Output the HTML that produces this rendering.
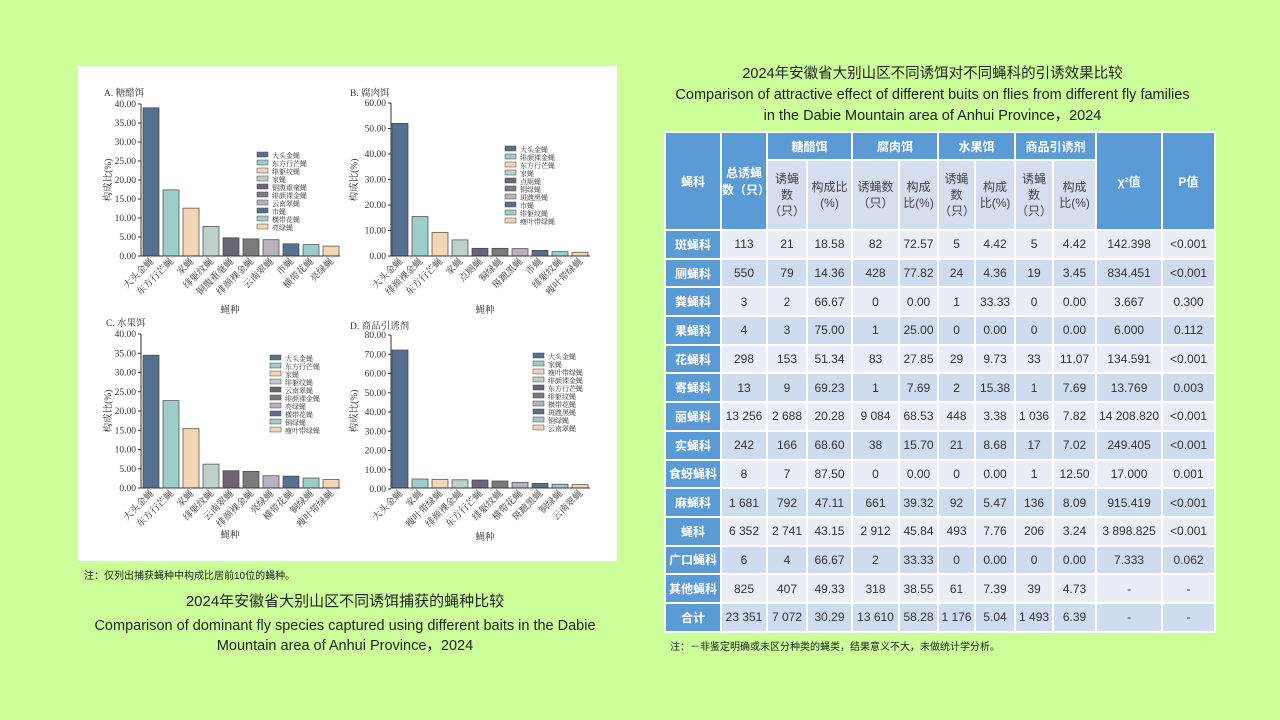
<!DOCTYPE html>
<html><head><meta charset="utf-8">
<style>
body{margin:0;width:1280px;height:720px;background:#ccff99;position:relative;overflow:hidden;font-family:"Liberation Sans","Noto Sans CJK SC",sans-serif;color:#222}
.ab{position:absolute}
.panel{left:78px;top:66px;width:539px;height:495px;background:#fff}
svg text{font-family:"Liberation Serif","Noto Serif CJK SC",serif;fill:#333}
.tk{font-size:9.5px;text-anchor:end}
.lb{font-size:9.5px;text-anchor:end}
.lg{font-size:7px}
.ti{font-size:9.5px}
table{border-collapse:collapse;table-layout:fixed;font-size:12px}
td{border:2px solid #fff;text-align:center;padding:0;color:#333;font-family:"Liberation Sans","Noto Sans CJK SC",sans-serif}
td.h{background:#5b9bd5;color:#fff;font-weight:bold;font-size:12px}
td.s{background:#d4deef;color:#444;font-size:12px;line-height:16px}
td.f{background:#5b9bd5;color:#fff;font-weight:bold;font-size:12px}
tr.l td:not(.f){background:#e9edf5}
tr.d td:not(.f){background:#cfdbee}
tr.r{height:28.7px}
</style></head><body>
<div class="ab panel"></div>
<svg class="ab" style="left:0;top:0" width="1280" height="720" viewBox="0 0 1280 720">
<g stroke="#444" stroke-width="0.7">
<rect x="143" y="107.8" width="16" height="148.2" fill="#56718f"/>
<rect x="163" y="189.9" width="16" height="66.1" fill="#9dcdc8"/>
<rect x="183" y="208.1" width="16" height="47.9" fill="#f2d5b2"/>
<rect x="203" y="226.4" width="16" height="29.6" fill="#bdd0c9"/>
<rect x="223" y="237.8" width="16" height="18.2" fill="#6b6573"/>
<rect x="243" y="238.9" width="16" height="17.1" fill="#7b7b7d"/>
<rect x="263" y="239.7" width="16" height="16.3" fill="#b9b1bd"/>
<rect x="283" y="243.8" width="16" height="12.2" fill="#56718f"/>
<rect x="303" y="244.6" width="16" height="11.4" fill="#9dcdc8"/>
<rect x="323" y="246.1" width="16" height="9.9" fill="#f2d5b2"/>
<rect x="392" y="123.4" width="16" height="132.6" fill="#56718f"/>
<rect x="412" y="216.5" width="16" height="39.5" fill="#9dcdc8"/>
<rect x="432" y="232.3" width="16" height="23.7" fill="#f2d5b2"/>
<rect x="452" y="239.9" width="16" height="16.1" fill="#bdd0c9"/>
<rect x="472" y="248.3" width="16" height="7.7" fill="#6b6573"/>
<rect x="492" y="248.3" width="16" height="7.7" fill="#7b7b7d"/>
<rect x="512" y="248.6" width="16" height="7.4" fill="#b9b1bd"/>
<rect x="532" y="250.4" width="16" height="5.6" fill="#56718f"/>
<rect x="552" y="251.7" width="16" height="4.3" fill="#9dcdc8"/>
<rect x="572" y="252.2" width="16" height="3.8" fill="#f2d5b2"/>
<rect x="143" y="355.2" width="16" height="132.8" fill="#56718f"/>
<rect x="163" y="400.6" width="16" height="87.4" fill="#9dcdc8"/>
<rect x="183" y="428.7" width="16" height="59.3" fill="#f2d5b2"/>
<rect x="203" y="464.1" width="16" height="23.9" fill="#bdd0c9"/>
<rect x="223" y="470.7" width="16" height="17.3" fill="#6b6573"/>
<rect x="243" y="471.4" width="16" height="16.6" fill="#7b7b7d"/>
<rect x="263" y="475.7" width="16" height="12.3" fill="#b9b1bd"/>
<rect x="283" y="476.1" width="16" height="11.9" fill="#56718f"/>
<rect x="303" y="478" width="16" height="10" fill="#9dcdc8"/>
<rect x="323" y="479.5" width="16" height="8.5" fill="#f2d5b2"/>
<rect x="392" y="350" width="16" height="138" fill="#56718f"/>
<rect x="412" y="479" width="16" height="9" fill="#9dcdc8"/>
<rect x="432" y="479.3" width="16" height="8.7" fill="#f2d5b2"/>
<rect x="452" y="479.8" width="16" height="8.2" fill="#bdd0c9"/>
<rect x="472" y="480" width="16" height="8" fill="#6b6573"/>
<rect x="492" y="481" width="16" height="7" fill="#7b7b7d"/>
<rect x="512" y="482.3" width="16" height="5.7" fill="#b9b1bd"/>
<rect x="532" y="483.4" width="16" height="4.6" fill="#56718f"/>
<rect x="552" y="484.2" width="16" height="3.8" fill="#9dcdc8"/>
<rect x="572" y="484.6" width="16" height="3.4" fill="#f2d5b2"/>
</g>
<g stroke="#333" stroke-width="1" fill="none">
<path d="M141,104 V256 H340"/><path d="M391,103 V256 H590"/>
<path d="M141,334 V488 H340"/><path d="M391,335 V488 H590"/>
<path d="M138,104h3M138,123h3M138,142h3M138,161h3M138,180h3M138,199h3M138,218h3M138,237h3M138,256h3"/>
<path d="M388,103h3M388,128.5h3M388,154h3M388,179.5h3M388,205h3M388,230.5h3M388,256h3"/>
<path d="M138,334h3M138,353.3h3M138,372.5h3M138,391.8h3M138,411h3M138,430.3h3M138,449.5h3M138,468.8h3M138,488h3"/>
<path d="M388,335h3M388,354.3h3M388,373.5h3M388,392.8h3M388,412h3M388,431.3h3M388,450.5h3M388,469.8h3M388,489h3"/>
</g>
<g>
<text class="tk" x="136" y="107">40.00</text><text class="tk" x="136" y="126">35.00</text><text class="tk" x="136" y="145">30.00</text><text class="tk" x="136" y="164">25.00</text><text class="tk" x="136" y="183">20.00</text><text class="tk" x="136" y="202">15.00</text><text class="tk" x="136" y="221">10.00</text><text class="tk" x="136" y="240">5.00</text><text class="tk" x="136" y="259">0.00</text>
<text class="tk" x="386" y="106">60.00</text><text class="tk" x="386" y="131.5">50.00</text><text class="tk" x="386" y="157">40.00</text><text class="tk" x="386" y="182.5">30.00</text><text class="tk" x="386" y="208">20.00</text><text class="tk" x="386" y="233.5">10.00</text><text class="tk" x="386" y="259">0.00</text>
<text class="tk" x="136" y="337">40.00</text><text class="tk" x="136" y="356.3">35.00</text><text class="tk" x="136" y="375.5">30.00</text><text class="tk" x="136" y="394.8">25.00</text><text class="tk" x="136" y="414">20.00</text><text class="tk" x="136" y="433.3">15.00</text><text class="tk" x="136" y="452.5">10.00</text><text class="tk" x="136" y="471.8">5.00</text><text class="tk" x="136" y="491">0.00</text>
<text class="tk" x="386" y="338">80.00</text><text class="tk" x="386" y="357.3">70.00</text><text class="tk" x="386" y="376.5">60.00</text><text class="tk" x="386" y="395.8">50.00</text><text class="tk" x="386" y="415">40.00</text><text class="tk" x="386" y="434.3">30.00</text><text class="tk" x="386" y="453.5">20.00</text><text class="tk" x="386" y="472.8">10.00</text><text class="tk" x="386" y="492">0.00</text>
</g>
<text class="ti" x="104" y="96">A. 糖醋饵</text>
<text class="ti" x="350" y="96">B. 腐肉饵</text>
<text class="ti" x="106" y="326">C. 水果饵</text>
<text class="ti" x="350" y="329">D. 商品引诱剂</text>
<text class="ti" transform="translate(111,180) rotate(-90)" text-anchor="middle">构成比(%)</text>
<text class="ti" transform="translate(357,180) rotate(-90)" text-anchor="middle">构成比(%)</text>
<text class="ti" transform="translate(111,411) rotate(-90)" text-anchor="middle">构成比(%)</text>
<text class="ti" transform="translate(357,411) rotate(-90)" text-anchor="middle">构成比(%)</text>
<text class="ti" x="230" y="313" text-anchor="middle">蝇种</text>
<text class="ti" x="485" y="313" text-anchor="middle">蝇种</text>
<text class="ti" x="230" y="538" text-anchor="middle">蝇种</text>
<text class="ti" x="485" y="540" text-anchor="middle">蝇种</text>
<g>
<text class="lb" transform="translate(154,262) rotate(-45)">大头金蝇</text>
<text class="lb" transform="translate(174,262) rotate(-45)">东方行芒蝇</text>
<text class="lb" transform="translate(194,262) rotate(-45)">家蝇</text>
<text class="lb" transform="translate(214,262) rotate(-45)">绯躯纹蝇</text>
<text class="lb" transform="translate(234,262) rotate(-45)">铜腹重毫蝇</text>
<text class="lb" transform="translate(254,262) rotate(-45)">绯颜裸金蝇</text>
<text class="lb" transform="translate(274,262) rotate(-45)">云南翠蝇</text>
<text class="lb" transform="translate(294,262) rotate(-45)">市蝇</text>
<text class="lb" transform="translate(314,262) rotate(-45)">横带花蝇</text>
<text class="lb" transform="translate(334,262) rotate(-45)">亮绿蝇</text>
<text class="lb" transform="translate(403,262) rotate(-45)">大头金蝇</text>
<text class="lb" transform="translate(423,262) rotate(-45)">绯颜裸金蝇</text>
<text class="lb" transform="translate(443,262) rotate(-45)">东方行芒蝇</text>
<text class="lb" transform="translate(463,262) rotate(-45)">家蝇</text>
<text class="lb" transform="translate(483,262) rotate(-45)">点厕蝇</text>
<text class="lb" transform="translate(503,262) rotate(-45)">铜绿蝇</text>
<text class="lb" transform="translate(523,262) rotate(-45)">斑蹠黑蝇</text>
<text class="lb" transform="translate(543,262) rotate(-45)">市蝇</text>
<text class="lb" transform="translate(563,262) rotate(-45)">绯躯纹蝇</text>
<text class="lb" transform="translate(583,262) rotate(-45)">瘦叶带绿蝇</text>
<text class="lb" transform="translate(154,494) rotate(-45)">大头金蝇</text>
<text class="lb" transform="translate(174,494) rotate(-45)">东方行芒蝇</text>
<text class="lb" transform="translate(194,494) rotate(-45)">家蝇</text>
<text class="lb" transform="translate(214,494) rotate(-45)">绯躯纹蝇</text>
<text class="lb" transform="translate(234,494) rotate(-45)">云南翠蝇</text>
<text class="lb" transform="translate(254,494) rotate(-45)">绯颜裸金蝇</text>
<text class="lb" transform="translate(274,494) rotate(-45)">亮绿蝇</text>
<text class="lb" transform="translate(294,494) rotate(-45)">横带花蝇</text>
<text class="lb" transform="translate(314,494) rotate(-45)">铜绿蝇</text>
<text class="lb" transform="translate(334,494) rotate(-45)">瘦叶带绿蝇</text>
<text class="lb" transform="translate(403,494) rotate(-45)">大头金蝇</text>
<text class="lb" transform="translate(423,494) rotate(-45)">家蝇</text>
<text class="lb" transform="translate(443,494) rotate(-45)">瘦叶带绿蝇</text>
<text class="lb" transform="translate(463,494) rotate(-45)">绯颜裸金蝇</text>
<text class="lb" transform="translate(483,494) rotate(-45)">东方行芒蝇</text>
<text class="lb" transform="translate(503,494) rotate(-45)">绯躯纹蝇</text>
<text class="lb" transform="translate(523,494) rotate(-45)">横带花蝇</text>
<text class="lb" transform="translate(543,494) rotate(-45)">斑蹠黑蝇</text>
<text class="lb" transform="translate(563,494) rotate(-45)">铜绿蝇</text>
<text class="lb" transform="translate(583,494) rotate(-45)">云南翠蝇</text>
</g>
<g stroke="#444" stroke-width="0.5">
<rect x="257" y="152" width="11" height="5" fill="#56718f"/><rect x="257" y="160" width="11" height="5" fill="#9dcdc8"/><rect x="257" y="168" width="11" height="5" fill="#f2d5b2"/><rect x="257" y="176" width="11" height="5" fill="#bdd0c9"/><rect x="257" y="184" width="11" height="5" fill="#6b6573"/><rect x="257" y="192" width="11" height="5" fill="#7b7b7d"/><rect x="257" y="200" width="11" height="5" fill="#b9b1bd"/><rect x="257" y="208" width="11" height="5" fill="#56718f"/><rect x="257" y="216" width="11" height="5" fill="#9dcdc8"/><rect x="257" y="224" width="11" height="5" fill="#f2d5b2"/>
<rect x="505" y="146" width="11" height="5" fill="#56718f"/><rect x="505" y="154" width="11" height="5" fill="#9dcdc8"/><rect x="505" y="162" width="11" height="5" fill="#f2d5b2"/><rect x="505" y="170" width="11" height="5" fill="#bdd0c9"/><rect x="505" y="178" width="11" height="5" fill="#6b6573"/><rect x="505" y="186" width="11" height="5" fill="#7b7b7d"/><rect x="505" y="194" width="11" height="5" fill="#b9b1bd"/><rect x="505" y="202" width="11" height="5" fill="#56718f"/><rect x="505" y="210" width="11" height="5" fill="#9dcdc8"/><rect x="505" y="218" width="11" height="5" fill="#f2d5b2"/>
<rect x="270" y="355" width="11" height="5" fill="#56718f"/><rect x="270" y="363" width="11" height="5" fill="#9dcdc8"/><rect x="270" y="371" width="11" height="5" fill="#f2d5b2"/><rect x="270" y="379" width="11" height="5" fill="#bdd0c9"/><rect x="270" y="387" width="11" height="5" fill="#6b6573"/><rect x="270" y="395" width="11" height="5" fill="#7b7b7d"/><rect x="270" y="403" width="11" height="5" fill="#b9b1bd"/><rect x="270" y="411" width="11" height="5" fill="#56718f"/><rect x="270" y="419" width="11" height="5" fill="#9dcdc8"/><rect x="270" y="427" width="11" height="5" fill="#f2d5b2"/>
<rect x="533" y="353" width="11" height="5" fill="#56718f"/><rect x="533" y="361" width="11" height="5" fill="#9dcdc8"/><rect x="533" y="369" width="11" height="5" fill="#f2d5b2"/><rect x="533" y="377" width="11" height="5" fill="#bdd0c9"/><rect x="533" y="385" width="11" height="5" fill="#6b6573"/><rect x="533" y="393" width="11" height="5" fill="#7b7b7d"/><rect x="533" y="401" width="11" height="5" fill="#b9b1bd"/><rect x="533" y="409" width="11" height="5" fill="#56718f"/><rect x="533" y="417" width="11" height="5" fill="#9dcdc8"/><rect x="533" y="425" width="11" height="5" fill="#f2d5b2"/>
</g>
<g>
<text class="lg" x="272" y="158">大头金蝇</text><text class="lg" x="272" y="166">东方行芒蝇</text><text class="lg" x="272" y="174">绯躯纹蝇</text><text class="lg" x="272" y="182">家蝇</text><text class="lg" x="272" y="190">铜腹重毫蝇</text><text class="lg" x="272" y="198">绯颜裸金蝇</text><text class="lg" x="272" y="206">云南翠蝇</text><text class="lg" x="272" y="214">市蝇</text><text class="lg" x="272" y="222">横带花蝇</text><text class="lg" x="272" y="230">亮绿蝇</text>
<text class="lg" x="520" y="152">大头金蝇</text><text class="lg" x="520" y="160">绯颜裸金蝇</text><text class="lg" x="520" y="168">东方行芒蝇</text><text class="lg" x="520" y="176">家蝇</text><text class="lg" x="520" y="184">点厕蝇</text><text class="lg" x="520" y="192">铜绿蝇</text><text class="lg" x="520" y="200">斑蹠黑蝇</text><text class="lg" x="520" y="208">市蝇</text><text class="lg" x="520" y="216">绯躯纹蝇</text><text class="lg" x="520" y="224">瘦叶带绿蝇</text>
<text class="lg" x="285" y="361">大头金蝇</text><text class="lg" x="285" y="369">东方行芒蝇</text><text class="lg" x="285" y="377">家蝇</text><text class="lg" x="285" y="385">绯躯纹蝇</text><text class="lg" x="285" y="393">云南翠蝇</text><text class="lg" x="285" y="401">绯颜裸金蝇</text><text class="lg" x="285" y="409">亮绿蝇</text><text class="lg" x="285" y="417">横带花蝇</text><text class="lg" x="285" y="425">铜绿蝇</text><text class="lg" x="285" y="433">瘦叶带绿蝇</text>
<text class="lg" x="548" y="359">大头金蝇</text><text class="lg" x="548" y="367">家蝇</text><text class="lg" x="548" y="375">瘦叶带绿蝇</text><text class="lg" x="548" y="383">绯颜裸金蝇</text><text class="lg" x="548" y="391">东方行芒蝇</text><text class="lg" x="548" y="399">绯躯纹蝇</text><text class="lg" x="548" y="407">横带花蝇</text><text class="lg" x="548" y="415">斑蹠黑蝇</text><text class="lg" x="548" y="423">铜绿蝇</text><text class="lg" x="548" y="431">云南翠蝇</text>
</g>
</svg>

<div class="ab" style="left:84px;top:567px;font-size:10px">注：仅列出捕获蝇种中构成比居前10位的蝇种。</div>
<div class="ab" style="left:60px;top:592px;width:570px;text-align:center;font-size:15px;line-height:20px">2024年安徽省大别山区不同诱饵捕获的蝇种比较</div>
<div class="ab" style="left:72px;top:616px;width:546px;text-align:center;font-size:14.5px;line-height:20px">Comparison of dominant fly species captured using different baits in the Dabie Mountain area of Anhui Province，2024</div>

<div class="ab" style="left:640px;top:64px;width:585px;text-align:center;font-size:14.5px;line-height:21px">2024年安徽省大别山区不同诱饵对不同蝇科的引诱效果比较<br>Comparison of attractive effect of different buits on flies from different fly families<br>in the Dabie Mountain area of Anhui Province，2024</div>

<table class="ab" style="left:664px;top:131px;width:550px">
<colgroup><col style="width:56px"><col style="width:46px"><col style="width:40px"><col style="width:45px"><col style="width:47px"><col style="width:39px"><col style="width:37px"><col style="width:40px"><col style="width:38px"><col style="width:43px"><col style="width:66px"><col style="width:53px"></colgroup>
<tr style="height:28px"><td class="h" rowspan="2">蝇科</td><td class="h" rowspan="2">总诱蝇数（只）</td><td class="h" colspan="2">糖醋饵</td><td class="h" colspan="2">腐肉饵</td><td class="h" colspan="2">水果饵</td><td class="h" colspan="2">商品引诱剂</td><td class="h" rowspan="2">χ²值</td><td class="h" rowspan="2">P值</td></tr>
<tr style="height:70px"><td class="s">诱蝇<br>数<br>（只）</td><td class="s">构成比<br>(%)</td><td class="s">诱蝇数<br>（只）</td><td class="s">构成<br>比(%)</td><td class="s">诱蝇<br>数<br>（只）</td><td class="s">构成<br>比(%)</td><td class="s">诱蝇<br>数<br>（只）</td><td class="s">构成<br>比(%)</td></tr>
<tr class="r l"><td class="f">斑蝇科</td><td>113</td><td>21</td><td>18.58</td><td>82</td><td>72.57</td><td>5</td><td>4.42</td><td>5</td><td>4.42</td><td>142.398</td><td>&lt;0.001</td></tr>
<tr class="r d"><td class="f">厕蝇科</td><td>550</td><td>79</td><td>14.36</td><td>428</td><td>77.82</td><td>24</td><td>4.36</td><td>19</td><td>3.45</td><td>834.451</td><td>&lt;0.001</td></tr>
<tr class="r l"><td class="f">粪蝇科</td><td>3</td><td>2</td><td>66.67</td><td>0</td><td>0.00</td><td>1</td><td>33.33</td><td>0</td><td>0.00</td><td>3.667</td><td>0.300</td></tr>
<tr class="r d"><td class="f">果蝇科</td><td>4</td><td>3</td><td>75.00</td><td>1</td><td>25.00</td><td>0</td><td>0.00</td><td>0</td><td>0.00</td><td>6.000</td><td>0.112</td></tr>
<tr class="r l"><td class="f">花蝇科</td><td>298</td><td>153</td><td>51.34</td><td>83</td><td>27.85</td><td>29</td><td>9.73</td><td>33</td><td>11.07</td><td>134.591</td><td>&lt;0.001</td></tr>
<tr class="r d"><td class="f">寄蝇科</td><td>13</td><td>9</td><td>69.23</td><td>1</td><td>7.69</td><td>2</td><td>15.38</td><td>1</td><td>7.69</td><td>13.769</td><td>0.003</td></tr>
<tr class="r l"><td class="f">丽蝇科</td><td>13 256</td><td>2 688</td><td>20.28</td><td>9 084</td><td>68.53</td><td>448</td><td>3.38</td><td>1 036</td><td>7.82</td><td>14 208.820</td><td>&lt;0.001</td></tr>
<tr class="r d"><td class="f">实蝇科</td><td>242</td><td>166</td><td>68.60</td><td>38</td><td>15.70</td><td>21</td><td>8.68</td><td>17</td><td>7.02</td><td>249.405</td><td>&lt;0.001</td></tr>
<tr class="r l"><td class="f">食蚜蝇科</td><td>8</td><td>7</td><td>87.50</td><td>0</td><td>0.00</td><td>0</td><td>0.00</td><td>1</td><td>12.50</td><td>17.000</td><td>0.001</td></tr>
<tr class="r d"><td class="f">麻蝇科</td><td>1 681</td><td>792</td><td>47.11</td><td>661</td><td>39.32</td><td>92</td><td>5.47</td><td>136</td><td>8.09</td><td>915.419</td><td>&lt;0.001</td></tr>
<tr class="r l"><td class="f">蝇科</td><td>6 352</td><td>2 741</td><td>43.15</td><td>2 912</td><td>45.84</td><td>493</td><td>7.76</td><td>206</td><td>3.24</td><td>3 898.825</td><td>&lt;0.001</td></tr>
<tr class="r d"><td class="f">广口蝇科</td><td>6</td><td>4</td><td>66.67</td><td>2</td><td>33.33</td><td>0</td><td>0.00</td><td>0</td><td>0.00</td><td>7.333</td><td>0.062</td></tr>
<tr class="r l"><td class="f">其他蝇科</td><td>825</td><td>407</td><td>49.33</td><td>318</td><td>38.55</td><td>61</td><td>7.39</td><td>39</td><td>4.73</td><td>-</td><td>-</td></tr>
<tr class="r d"><td class="f">合计</td><td>23 351</td><td>7 072</td><td>30.29</td><td>13 610</td><td>58.28</td><td>1 176</td><td>5.04</td><td>1 493</td><td>6.39</td><td>-</td><td>-</td></tr>
</table>
<div class="ab" style="left:670px;top:638px;font-size:10px">注：－非鉴定明确或未区分种类的蝇类，结果意义不大，未做统计学分析。</div>
</body></html>
